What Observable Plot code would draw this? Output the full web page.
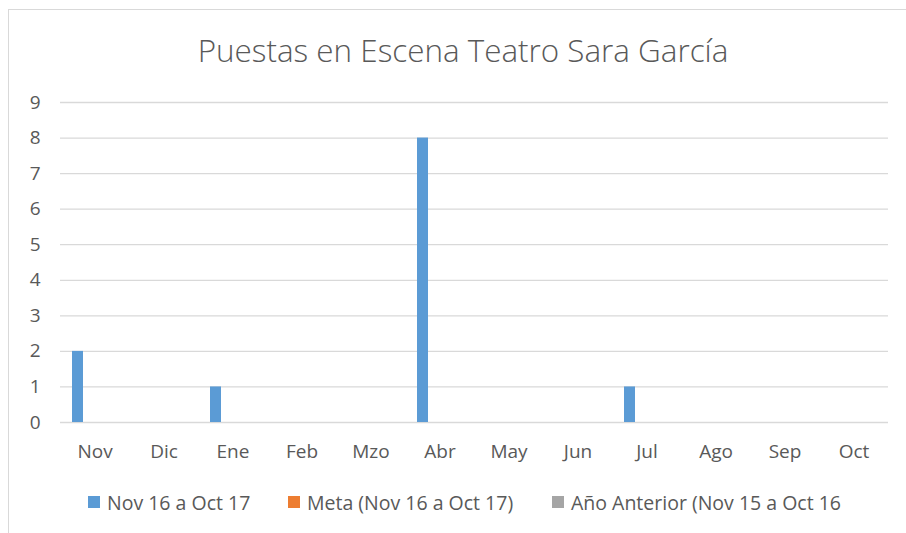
<!DOCTYPE html>
<html>
<head>
<meta charset="utf-8">
<script src="https://cdn.jsdelivr.net/npm/d3@7"></script>
<script src="https://cdn.jsdelivr.net/npm/@observablehq/plot@0.6"></script>
<style>
  html, body { margin: 0; padding: 0; background: #fff; }
  body { width: 906px; height: 533px; position: relative; overflow: hidden; font-family: "Open Sans", sans-serif; color: #595959; }
  #frame { position: absolute; left: 8px; top: 9px; width: 930px; height: 560px; border: 1px solid #D9D9D9; box-sizing: border-box; }
  #title { position: absolute; left: 8px; width: 910px; top: 28px; text-align: center; font-size: 31.4px; font-weight: 300; line-height: 44px; }
  #chart { position: absolute; left: 0; top: 92px; }
  #legend { position: absolute; top: 488px; left: 0; width: 906px; height: 28px; font-size: 19.5px; }
  .item { position: absolute; top: 0; display: flex; align-items: center; height: 28px; white-space: nowrap; }
  .sw { width: 12px; height: 12px; margin-right: 7px; }
</style>
</head>
<body>
<div id="frame"></div>
<div id="title">Puestas en Escena Teatro Sara García</div>
<div id="chart"></div>
<div id="legend"></div>
<script>
const months = ["Nov", "Dic", "Ene", "Feb", "Mzo", "Abr", "May", "Jun", "Jul", "Ago", "Sep", "Oct"];
const seriesNames = ["Nov 16 a Oct 17", "Meta (Nov 16 a Oct 17)", "Año Anterior (Nov 15 a Oct 16"];
const seriesColors = ["#5B9BD5", "#ED7D31", "#A5A5A5"];
const actual = [2, 0, 1, 0, 0, 8, 0, 0, 1, 0, 0, 0];
const meta = [0, 0, 0, 0, 0, 0, 0, 0, 0, 0, 0, 0];
const anterior = [0, 0, 0, 0, 0, 0, 0, 0, 0, 0, 0, 0];
const yTicks = [0, 1, 2, 3, 4, 5, 6, 7, 8, 9];

const seriesValues = [actual, meta, anterior];
const data = [];
months.forEach((m, i) => {
  seriesNames.forEach((s, j) => {
    data.push({month: m, series: s, value: seriesValues[j][i]});
  });
});

const chart = Plot.plot({
  width: 906,
  height: 390,
  marginLeft: 57,
  marginRight: 16,
  marginTop: 10,
  marginBottom: 60,
  style: {fontFamily: "'Open Sans', sans-serif", fontSize: "19px", color: "#595959", background: "transparent", overflow: "visible"},
  fx: {domain: months, padding: 0, label: null, axis: "bottom", tickSize: 0, tickPadding: 22},
  x: {domain: seriesNames, axis: null, paddingInner: 0, paddingOuter: 1.39, align: 0.32},
  y: {domain: [0, 9], ticks: yTicks, axis: "left", label: null, tickSize: 0, tickPadding: 20},
  color: {domain: seriesNames, range: seriesColors},
  marks: [
    Plot.gridY(yTicks, {stroke: "#D9D9D9", strokeOpacity: 1, strokeWidth: 1.3}),
    Plot.barY(data, {fx: "month", x: "series", y: "value", fill: "series"})
  ]
});
document.getElementById("chart").appendChild(chart);

const legend = document.getElementById("legend");
const positions = [88, 288, 552];
seriesNames.forEach((s, i) => {
  const it = document.createElement("div");
  it.className = "item";
  it.style.left = positions[i] + "px";
  const sw = document.createElement("div");
  sw.className = "sw";
  sw.style.background = seriesColors[i];
  const t = document.createElement("span");
  t.textContent = s;
  it.appendChild(sw);
  it.appendChild(t);
  legend.appendChild(it);
});
</script>
</body>
</html>
